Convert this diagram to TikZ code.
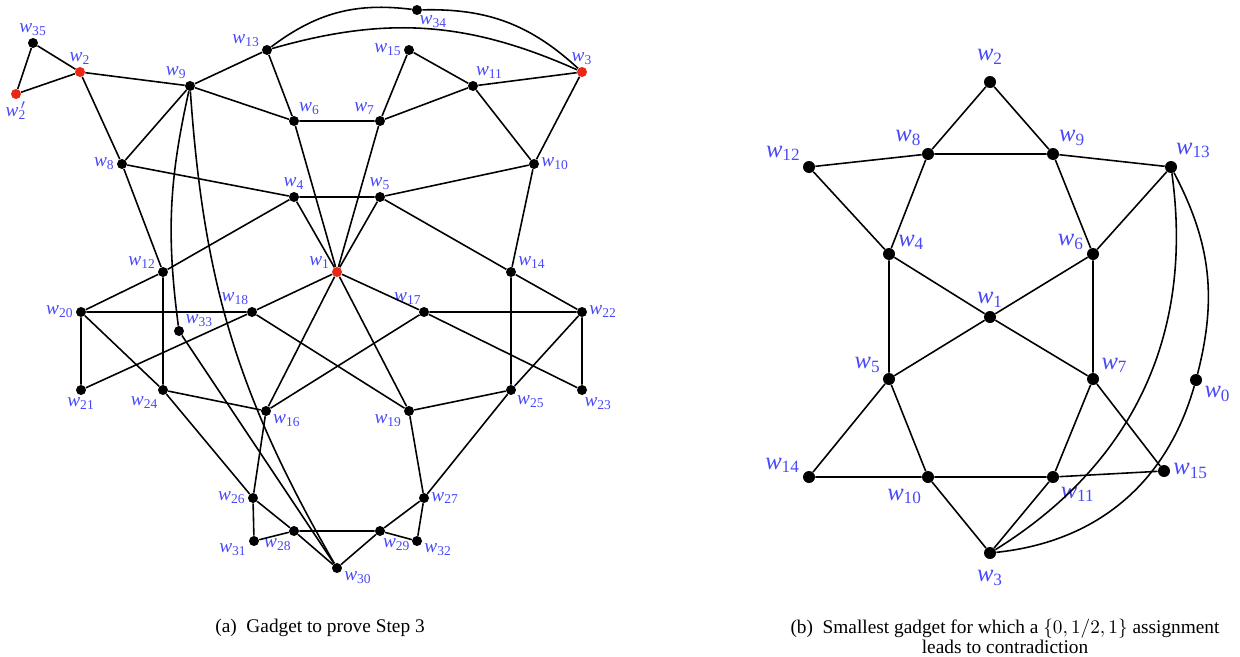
\documentclass[tikz,border=0pt]{standalone}
\usepackage{fontspec}
\setmainfont{Liberation Serif}
\usepackage{tikz}
\usetikzlibrary{positioning}

\definecolor{lblue}{RGB}{72,72,250}
\definecolor{vred}{RGB}{236,38,20}
\newcommand{\wlab}[1]{\textit{w}\textsubscript{#1}}
\newcommand{\wprime}{\textit{w}\rlap{\textsuperscript{\,$\prime$}}\textsubscript{2}}

\tikzset{
  dot/.style={circle,fill=black,inner sep=0pt,minimum size=0.2cm},
  rdot/.style={dot,fill=vred},
  bigdot/.style={dot,minimum size=0.24cm},
  edge/.style={line width=0.9pt},
  smalllbl/.style={every label/.style={text=lblue,inner sep=1pt,font=\fontsize{11}{13}\selectfont}},
  biglbl/.style={every label/.style={text=lblue,inner sep=1.5pt,font=\fontsize{14}{16}\selectfont}},
  caption/.style={font=\fontsize{11}{11.4}\selectfont,align=center,inner sep=0pt}
}

\begin{document}
\begin{tikzpicture}[x=0.02cm,y=-0.02cm]
\useasboundingbox (0,0) rectangle (1240,656);

% (a) gadget
\begin{scope}[smalllbl]
\node[dot,label=90:\wlab{35}] (a35) at (33,43) {};
\node[rdot,label=90:\wlab{2}] (a2) at (80,72) {};
\node[rdot,label=270:\wprime] (a2p) at (16,94) {};
\node[dot,label=105:\wlab{9}] (a9) at (190,86) {};
\node[dot,label=165:\wlab{13}] (a13) at (267,50) {};
\node[dot,label={[label distance=-1pt]-82:\wlab{34}}] (a34) at (417,10) {};
\node[rdot,label=90:\wlab{3}] (a3) at (582,72) {};
\node[dot,label=180:\wlab{15}] (a15) at (409,50) {};
\node[dot,label=80:\wlab{11}] (a11) at (473,86) {};
\node[dot,label=55:\wlab{6}] (a6) at (294,121) {};
\node[dot,label=125:\wlab{7}] (a7) at (380,121) {};
\node[dot,label=180:\wlab{8}] (a8) at (122,164) {};
\node[dot,label=90:\wlab{4}] (a4) at (294,197) {};
\node[dot,label=90:\wlab{5}] (a5) at (380,197) {};
\node[dot,label=0:\wlab{10}] (a10) at (534,164) {};
\node[rdot,label=160:\wlab{1}] (a1) at (337,272) {};
\node[dot,label=165:\wlab{12}] (a12) at (163,272) {};
\node[dot,label=15:\wlab{14}] (a14) at (511,272) {};
\node[dot,label=180:\wlab{20}] (a20) at (81,312) {};
\node[dot,label=100:\wlab{18}] (a18) at (252,312) {};
\node[dot,label=95:\wlab{17}] (a17) at (424,312) {};
\node[dot,label=0:\wlab{22}] (a22) at (582,312) {};
\node[dot,label=30:\wlab{33}] (a33) at (179,331) {};
\node[dot,label=270:\wlab{21}] (a21) at (81,390) {};
\node[dot,label=-120:\wlab{24}] (a24) at (163,390) {};
\node[dot,label=-20:\wlab{16}] (a16) at (266,411) {};
\node[dot,label=200:\wlab{19}] (a19) at (409,411) {};
\node[dot,label=-40:\wlab{25}] (a25) at (511,390) {};
\node[dot,label=-85:\wlab{23}] (a23) at (582,390) {};
\node[dot,label=180:\wlab{26}] (a26) at (253,498) {};
\node[dot,label=0:\wlab{27}] (a27) at (424,498) {};
\node[dot,label=-95:\wlab{28}] (a28) at (294,531) {};
\node[dot,label=-80:\wlab{29}] (a29) at (380,531) {};
\node[dot,label=190:\wlab{31}] (a31) at (254,541) {};
\node[dot,label=-10:\wlab{32}] (a32) at (417,541) {};
\node[dot,label=-15:\wlab{30}] (a30) at (337,568) {};
\end{scope}

\draw[edge] (a35)--(a2) (a35)--(a2p) (a2p)--(a2) (a2)--(a9) (a2)--(a8);
\draw[edge] (a9)--(a13) (a9)--(a6) (a9)--(a8) (a33)--(a30);
\draw[edge] (a9) to[bend right=10] (a33);
\draw[edge] (a9) to[bend right=13] (a30);
\draw[edge] (a13) to[bend left=22] (a34);
\draw[edge] (a34) to[bend left=22] (a3);
\draw[edge] (a13) to[bend left=20] (a3);
\draw[edge] (a13)--(a6) (a15)--(a7) (a15)--(a11) (a11)--(a7) (a11)--(a3) (a11)--(a10) (a3)--(a10);
\draw[edge] (a6)--(a7) (a6)--(a1) (a7)--(a1) (a8)--(a4) (a8)--(a12);
\draw[edge] (a4)--(a5) (a4)--(a1) (a4)--(a12) (a5)--(a1) (a5)--(a10) (a5)--(a14) (a10)--(a14) (a14)--(a22);
\draw[edge] (a12)--(a20) (a12)--(a24);
\draw[edge] (a1)--(a18) (a1)--(a17) (a1)--(a16) (a1)--(a19);
\draw[edge] (a20)--(a18) (a20)--(a21) (a20)--(a24) (a18)--(a21) (a18)--(a19);
\draw[edge] (a17)--(a22) (a17)--(a23) (a17)--(a16) (a22)--(a23) (a22)--(a25) (a14)--(a25);
\draw[edge] (a24)--(a16) (a24)--(a26) (a16)--(a26);
\draw[edge] (a19)--(a25) (a19)--(a27) (a25)--(a27);
\draw[edge] (a26)--(a31) (a26)--(a28) (a28)--(a31) (a28)--(a29) (a28)--(a30) (a29)--(a30);
\draw[edge] (a29)--(a27) (a29)--(a32) (a27)--(a32);

% (b) gadget
\begin{scope}[biglbl]
\node[bigdot,label={[label distance=0.16cm]90:\wlab{2}}] (b2) at (990,82) {};
\node[bigdot,label=125:\wlab{8}] (b8) at (928,154) {};
\node[bigdot,label=60:\wlab{9}] (b9) at (1053,154) {};
\node[bigdot,label=150:\wlab{12}] (b12) at (809,167) {};
\node[bigdot,label=70:\wlab{13}] (b13) at (1171,167) {};
\node[bigdot,label=10:\wlab{4}] (b4) at (889,254) {};
\node[bigdot,label=170:\wlab{6}] (b6) at (1093,254) {};
\node[bigdot,label=90:\wlab{1}] (b1) at (990,317) {};
\node[bigdot,label=150:\wlab{5}] (b5) at (889,379) {};
\node[bigdot,label=30:\wlab{7}] (b7) at (1093,379) {};
\node[bigdot,label=-30:\wlab{0}] (b0) at (1196,380) {};
\node[bigdot,label=170:\wlab{14}] (b14) at (809,477) {};
\node[bigdot,label={[label distance=0.06cm]-110:\wlab{10}}] (b10) at (928,477) {};
\node[bigdot,label={[label distance=0.04cm]-55:\wlab{11}}] (b11) at (1053,477) {};
\node[bigdot,label=0:\wlab{15}] (b15) at (1164,471) {};
\node[bigdot,label={[label distance=0.16cm]270:\wlab{3}}] (b3) at (990,553) {};
\end{scope}

\draw[edge] (b2)--(b8) (b2)--(b9) (b8)--(b9) (b12)--(b8) (b9)--(b13);
\draw[edge] (b12)--(b4) (b8)--(b4) (b9)--(b6) (b13)--(b6);
\draw[edge] (b4)--(b1) (b6)--(b1) (b4)--(b5) (b6)--(b7) (b1)--(b5) (b1)--(b7);
\draw[edge] (b5)--(b14) (b5)--(b10) (b7)--(b11) (b7)--(b15);
\draw[edge] (b14)--(b10) (b10)--(b11) (b11)--(b15) (b10)--(b3) (b11)--(b3);
\draw[edge] (b13) to[bend left=33] (b3);
\draw[edge] (b13) to[bend left=21] (b0);
\draw[edge] (b0) to[bend left=34] (b3);

% captions
\node[caption] (capa) at (320,628) {(a)~~Gadget to prove Step 3};
\node[caption] (capb) at (1005,636) {(b)~~Smallest gadget for which a $\{0, 1/2, 1\}$ assignment\\leads to contradiction};
\end{tikzpicture}
\end{document}
